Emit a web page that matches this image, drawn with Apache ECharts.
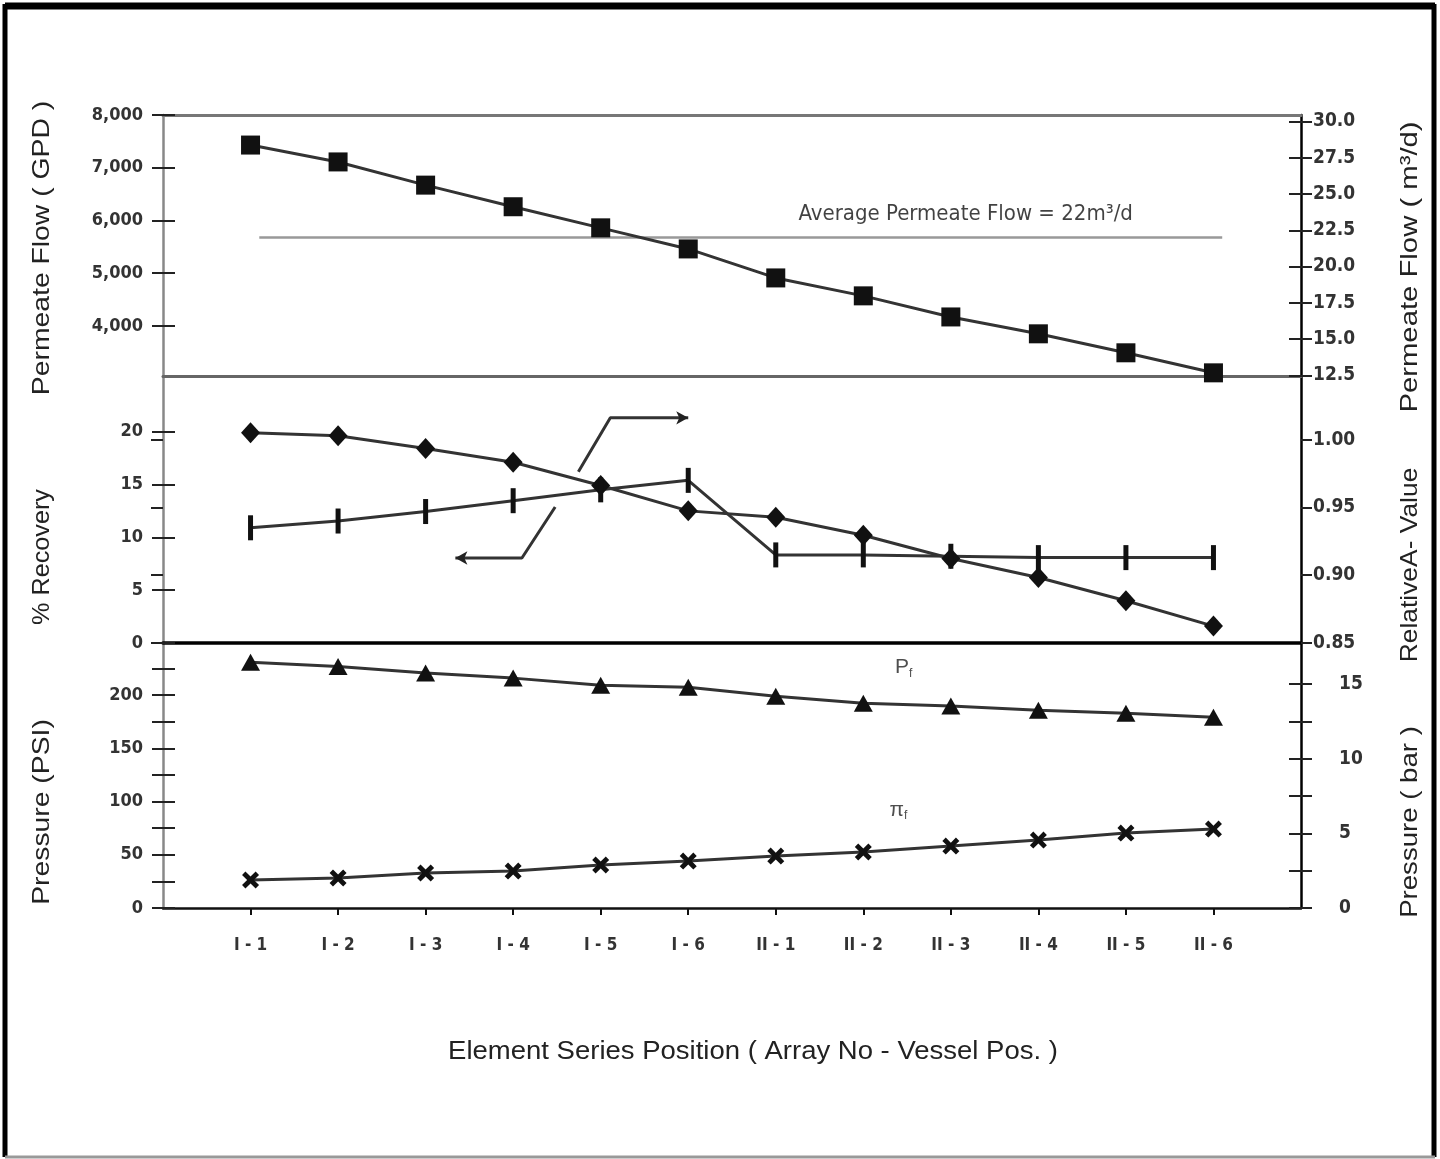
<!DOCTYPE html>
<html><head><meta charset="utf-8">
<script src="https://cdn.jsdelivr.net/npm/echarts@6/dist/echarts.min.js"></script>
<style>html,body{margin:0;padding:0;background:#fff}#c{width:1440px;height:1159px}</style>
</head><body><div id="c"></div>
<script>
// ---------------- data ----------------
const categories = ['I - 1','I - 2','I - 3','I - 4','I - 5','I - 6','II - 1','II - 2','II - 3','II - 4','II - 5','II - 6'];
const permeateFlowGPD = [7430, 7110, 6670, 6260, 5860, 5460, 4910, 4570, 4170, 3850, 3490, 3110];
const averagePermeateFlowM3d = 22;
const recoveryPct = [19.9, 19.6, 18.4, 17.1, 14.9, 12.5, 11.9, 10.2, 8.0, 6.2, 4.0, 1.6];
const relativeAValue = [0.935, 0.940, 0.947, 0.955, 0.963, 0.970, 0.915, 0.915, 0.914, 0.913, 0.913, 0.913];
const feedPressurePSI = [231, 227, 220.7, 216, 209.4, 207.5, 199, 192.5, 189.7, 185.9, 183, 179.3];
const osmoticPressurePSI = [26.3, 28.2, 32.9, 34.7, 40.4, 44.1, 48.8, 52.6, 58.2, 63.8, 70.4, 74.2];

// tick labels
const gpdTicks = [4000, 5000, 6000, 7000, 8000];
const m3dTicks = [12.5, 15, 17.5, 20, 22.5, 25, 27.5, 30];
const recoveryTicks = [0, 5, 10, 15, 20];
const aValueTicks = [0.85, 0.90, 0.95, 1.00];
const psiLabels = [0, 50, 100, 150, 200];
const psiTicks = [0, 25, 50, 75, 100, 125, 150, 175, 200, 225];
const barLabels = [0, 5, 10, 15];
const barTicks = [0, 2.5, 5, 7.5, 10, 12.5, 15];

// annotation anchors (in axis units)
const averageLineSpan = [1.1, 12.1];
const averageTextAt = [9.17, averagePermeateFlowM3d];
const calloutLow = [[4.48, 12.87], [4.10, 8.04], [3.34, 8.04]];
const calloutHigh = [[4.745, 16.2], [5.11, 21.3], [6.0, 21.3]];
const pfLabelAt = [8.46, 226];
const piLabelAt = [8.40, 92];

// ---------------- chart ----------------
const chart = echarts.init(document.getElementById('c'), null, {renderer: 'canvas'});
const xPos = categories.map((c, i) => i + 1);
const pairs = vals => vals.map((v, i) => [xPos[i], v]);

const NARROW = "'Liberation Sans Narrow','DejaVu Sans Condensed',sans-serif";
const SANS = "'Liberation Sans','DejaVu Sans',sans-serif";
const tickLabel = {fontFamily: NARROW, fontSize: 18, fontWeight: 'bold', color: '#333'};

function xAxis(grid, position, lineColor, lineWidth, showLabels) {
  return {
    type: 'value', gridIndex: grid, position: position, min: 0, max: 13,
    axisLine: {show: true, onZero: false, lineStyle: {color: lineColor, width: lineWidth}},
    axisTick: {show: showLabels, customValues: xPos, length: 7, inside: false, lineStyle: {color: '#111', width: 2}},
    axisLabel: {show: showLabels, customValues: xPos, margin: 29, ...tickLabel, fontSize: 17,
      formatter: v => categories[Math.round(v) - 1] || ''},
    splitLine: {show: false}
  };
}
function yAxis(grid, position, min, max, labels, ticks, fmt, lineColor, margin, fontSize) {
  return {
    type: 'value', gridIndex: grid, position: position, min: min, max: max,
    axisLine: {show: true, onZero: false, lineStyle: {color: lineColor, width: 2.5}},
    axisTick: {show: true, customValues: ticks, length: 11, lineStyle: {color: '#222', width: 2}},
    axisLabel: {show: true, customValues: labels, margin: margin, ...tickLabel, fontSize: fontSize, formatter: fmt},
    splitLine: {show: false}
  };
}
// inner half of the crossing tick marks
function yTicksInside(grid, position, min, max, ticks) {
  return {
    type: 'value', gridIndex: grid, position: position, min: min, max: max,
    axisLine: {show: false}, axisLabel: {show: false}, splitLine: {show: false},
    axisTick: {show: true, inside: true, customValues: ticks, length: 12, lineStyle: {color: '#222', width: 2}}
  };
}

const titleStyle = (text, size) => ({text: text, font: size + "px " + SANS, fill: '#222', textAlign: 'center', textVerticalAlign: 'middle'});

const option = {
  animation: false,
  backgroundColor: '#fff',
  grid: [
    {left: 163, right: 139, top: 115, height: 261, outerBoundsMode: 'none'},
    {left: 163, right: 139, top: 376, height: 267, outerBoundsMode: 'none'},
    {left: 163, right: 139, top: 643, height: 265, outerBoundsMode: 'none'}
  ],
  xAxis: [
    xAxis(0, 'top', '#777', 3, false),
    xAxis(1, 'top', '#666', 3, false),
    xAxis(1, 'bottom', '#000', 3.5, false),
    xAxis(2, 'bottom', '#111', 2.5, true)
  ],
  yAxis: [
    yAxis(0, 'left', 3050, 8000, gpdTicks, gpdTicks, v => v.toLocaleString('en-US'), '#888', 20, 18),
    yAxis(0, 'right', 12.45, 30.45, m3dTicks, m3dTicks, v => v.toFixed(1), '#000', 12, 19),
    yAxis(1, 'left', 0, 25.26, recoveryTicks, recoveryTicks, v => String(v), '#888', 20, 18),
    yAxis(1, 'right', 0.85, 1.047, aValueTicks, aValueTicks, v => v.toFixed(2), '#000', 12, 19),
    yAxis(2, 'left', 0, 249, psiLabels, psiTicks, v => String(v), '#888', 20, 18),
    yAxis(2, 'right', 0, 17.75, barLabels, barTicks, v => String(v), '#000', 38, 19),
    yTicksInside(0, 'left', 3050, 8000, gpdTicks),
    yTicksInside(0, 'right', 12.45, 30.45, m3dTicks),
    yTicksInside(1, 'left', 0, 25.26, recoveryTicks),
    yTicksInside(1, 'right', 0.85, 1.047, aValueTicks),
    yTicksInside(2, 'left', 0, 249, psiTicks),
    yTicksInside(2, 'right', 0, 17.75, barTicks)
  ],
  graphic: [
    {type: 'line', shape: {x1: 5, y1: 6, x2: 1435, y2: 6}, style: {stroke: '#000', lineWidth: 7}},
    {type: 'line', shape: {x1: 5, y1: 4, x2: 5, y2: 1157}, style: {stroke: '#000', lineWidth: 5}},
    {type: 'line', shape: {x1: 1434, y1: 4, x2: 1434, y2: 1157}, style: {stroke: '#000', lineWidth: 5}},
    {type: 'line', shape: {x1: 5, y1: 1157, x2: 1435, y2: 1157}, style: {stroke: '#999', lineWidth: 3}},
    {type: 'text', x: 42, y: 248, rotation: Math.PI / 2, scaleX: 1.18, style: titleStyle('Permeate Flow ( GPD )', 24)},
    {type: 'text', x: 42, y: 557, rotation: Math.PI / 2, scaleX: 1.05, style: titleStyle('% Recovery', 24)},
    {type: 'text', x: 42, y: 812, rotation: Math.PI / 2, scaleX: 1.18, style: titleStyle('Pressure (PSI)', 24)},
    {type: 'text', x: 1410, y: 267, rotation: Math.PI / 2, scaleX: 1.22, style: titleStyle('Permeate Flow ( m³/d)', 24)},
    {type: 'text', x: 1410, y: 565, rotation: Math.PI / 2, scaleX: 1.1, style: titleStyle('RelativeA- Value', 24)},
    {type: 'text', x: 1410, y: 822, rotation: Math.PI / 2, scaleX: 1.15, style: titleStyle('Pressure ( bar )', 24)},
    {type: 'text', x: 753, y: 1052, scaleX: 1.1, style: titleStyle('Element Series Position ( Array No - Vessel Pos. )', 25)}
  ],
  series: [
    {
      name: 'Permeate Flow', type: 'line', xAxisIndex: 0, yAxisIndex: 0,
      data: pairs(permeateFlowGPD), symbol: 'rect', symbolSize: 19,
      itemStyle: {color: '#111'}, lineStyle: {color: '#333', width: 3}, z: 5
    },
    {
      name: 'Average Permeate Flow', type: 'line', xAxisIndex: 0, yAxisIndex: 1,
      data: averageLineSpan.map(x => [x, averagePermeateFlowM3d]), symbol: 'none',
      lineStyle: {color: '#999', width: 2.5}, z: 3
    },
    {
      name: 'Average label', type: 'scatter', xAxisIndex: 0, yAxisIndex: 1,
      data: [averageTextAt], symbolSize: 0,
      label: {show: true, position: 'top', distance: 12, formatter: 'Average Permeate Flow = 22m³/d',
        fontFamily: NARROW, fontSize: 22, color: '#111'}
    },
    {
      name: '% Recovery', type: 'line', xAxisIndex: 1, yAxisIndex: 2,
      data: pairs(recoveryPct), symbol: 'diamond', symbolSize: [19, 21],
      itemStyle: {color: '#111'}, lineStyle: {color: '#333', width: 3}, z: 5
    },
    {
      name: 'Relative A-Value', type: 'line', xAxisIndex: 1, yAxisIndex: 3,
      data: pairs(relativeAValue), symbol: 'rect', symbolSize: [5, 25],
      itemStyle: {color: '#111'}, lineStyle: {color: '#333', width: 3}, z: 5
    },
    {
      name: 'callout low', type: 'line', xAxisIndex: 1, yAxisIndex: 2,
      data: calloutLow.map((p, i) => i === calloutLow.length - 1
        ? {value: p, symbol: 'arrow', symbolSize: [10, 12], symbolRotate: 90}
        : {value: p, symbol: 'none'}),
      itemStyle: {color: '#222'}, lineStyle: {color: '#333', width: 3}, z: 4
    },
    {
      name: 'callout high', type: 'line', xAxisIndex: 1, yAxisIndex: 2,
      data: calloutHigh.map((p, i) => i === calloutHigh.length - 1
        ? {value: p, symbol: 'arrow', symbolSize: [10, 12], symbolRotate: -90}
        : {value: p, symbol: 'none'}),
      itemStyle: {color: '#222'}, lineStyle: {color: '#333', width: 3}, z: 4
    },
    {
      name: 'Feed Pressure', type: 'line', xAxisIndex: 3, yAxisIndex: 4,
      data: pairs(feedPressurePSI), symbol: 'triangle', symbolSize: [19, 17],
      itemStyle: {color: '#111'}, lineStyle: {color: '#333', width: 3}, z: 5
    },
    {
      name: 'Osmotic Pressure', type: 'line', xAxisIndex: 3, yAxisIndex: 4,
      data: pairs(osmoticPressurePSI),
      symbol: 'path://M0,2 L2,0 L5,3 L8,0 L10,2 L7,5 L10,8 L8,10 L5,7 L2,10 L0,8 L3,5 Z', symbolSize: 17,
      itemStyle: {color: '#111'}, lineStyle: {color: '#333', width: 3}, z: 5
    },
    {
      name: 'pressure labels', type: 'scatter', xAxisIndex: 3, yAxisIndex: 4,
      data: [
        {value: pfLabelAt, label: {formatter: '{a|P}{b|f}'}},
        {value: piLabelAt, label: {formatter: '{a|π}{b|f}'}}
      ],
      symbolSize: 0,
      label: {show: true, position: 'inside',
        rich: {a: {fontFamily: SANS, fontSize: 21, color: '#222'}, b: {fontFamily: SANS, fontSize: 12, color: '#222', padding: [12, 0, 0, 0]}}}
    }
  ]
};
chart.setOption(option);
</script>
</body></html>
